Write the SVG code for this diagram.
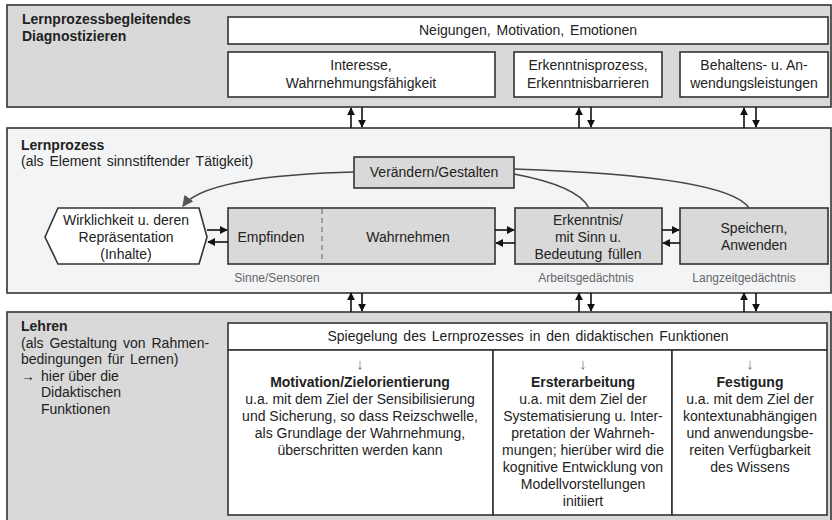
<svg xmlns="http://www.w3.org/2000/svg" width="832" height="520" viewBox="0 0 832 520">
<defs>
<style>
text{font-family:"Liberation Sans",Arial,sans-serif;font-size:14px;fill:#222}
.b{font-weight:bold}
.c{text-anchor:middle}
.s{font-size:12px;fill:#666}
.dn{font-size:15px;fill:#777}
.panelD{fill:#d9d9d9;stroke:#333;stroke-width:1.6}
.panelL{fill:#f3f4f6;stroke:#333;stroke-width:1.6}
.wbox{fill:#fff;stroke:#333;stroke-width:1.6}
.gbox{fill:#d9d9d9;stroke:#333;stroke-width:1.6}
.ln{stroke:#111;stroke-width:1.6;fill:none}
.cv{stroke:#444;stroke-width:1.5;fill:none}
</style>
<marker id="ah" viewBox="0 0 10 10" refX="9" refY="5" markerWidth="8" markerHeight="8" markerUnits="userSpaceOnUse" orient="auto">
<path d="M0,0 L10,5 L0,10 z" fill="#111"/>
</marker>
<marker id="ahg" viewBox="0 0 10 10" refX="9" refY="5" markerWidth="11" markerHeight="11" markerUnits="userSpaceOnUse" orient="auto">
<path d="M0,0 L10,5 L0,10 z" fill="#555"/>
</marker>
</defs>

<g id="panel-diagnose">
<rect class="panelD" x="7" y="5" width="824" height="102"/>
<text class="b" x="22" y="24">Lernprozessbegleitendes</text>
<text class="b" x="22" y="41">Diagnostizieren</text>
</g>
<g id="node-neigungen">
<rect class="wbox" x="228" y="17" width="600" height="27"/>
<text class="c" x="528" y="35" word-spacing="2">Neigungen, Motivation, Emotionen</text>
</g>
<g id="node-interesse">
<rect class="wbox" x="228" y="52" width="267" height="45"/>
<text class="c" x="361" y="70">Interesse,</text>
<text class="c" x="361" y="88">Wahrnehmungsfähigkeit</text>
</g>
<g id="node-erkenntnisprozess">
<rect class="wbox" x="514" y="52" width="148" height="45"/>
<text class="c" x="588" y="70">Erkenntnisprozess,</text>
<text class="c" x="588" y="88">Erkenntnisbarrieren</text>
</g>
<g id="node-behaltens">
<rect class="wbox" x="680" y="52" width="148" height="45"/>
<text class="c" x="754" y="70">Behaltens- u. An-</text>
<text class="c" x="754" y="88">wendungsleistungen</text>
</g>

<g id="panel-lernprozess">
<rect class="panelL" x="7" y="128" width="824" height="165"/>
<text class="b" x="21" y="150">Lernprozess</text>
<text x="21" y="166" word-spacing="2">(als Element sinnstiftender Tätigkeit)</text>
<text class="s c" x="277" y="282">Sinne/Sensoren</text>
<text class="s c" x="586" y="282">Arbeitsgedächtnis</text>
<text class="s c" x="744" y="282">Langzeitgedächtnis</text>
</g>
<g id="node-veraendern">
<rect class="gbox" x="354" y="157" width="160" height="31"/>
<text class="c" x="434" y="177">Verändern/Gestalten</text>
</g>
<g id="node-wirklichkeit">
<polygon class="wbox" points="45,237 58,208 199,208 207,237 199,264 58,264"/>
<text class="c" x="126" y="225">Wirklichkeit u. deren</text>
<text class="c" x="126" y="242">Repräsentation</text>
<text class="c" x="126" y="259">(Inhalte)</text>
</g>
<g id="node-empfinden">
<rect class="gbox" x="228" y="208" width="267" height="56"/>
<line x1="322" y1="209" x2="322" y2="263" stroke="#777" stroke-width="1.2" stroke-dasharray="5,4"/>
<text class="c" x="271" y="242">Empfinden</text>
<text class="c" x="408" y="242">Wahrnehmen</text>
</g>
<g id="node-erkenntnis">
<rect class="gbox" x="515" y="208" width="147" height="56"/>
<text class="c" x="588" y="225">Erkenntnis/</text>
<text class="c" x="588" y="242">mit Sinn u.</text>
<text class="c" x="588" y="259" word-spacing="2">Bedeutung füllen</text>
</g>
<g id="node-speichern">
<rect class="gbox" x="680" y="208" width="148" height="56"/>
<text class="c" x="754" y="233">Speichern,</text>
<text class="c" x="754" y="250">Anwenden</text>
</g>

<g id="panel-lehren">
<rect class="panelD" x="7" y="312" width="824" height="215"/>
<text class="b" x="21" y="331">Lehren</text>
<text x="21" y="348" word-spacing="2">(als Gestaltung von Rahmen-</text>
<text x="21" y="364" word-spacing="2">bedingungen für Lernen)</text>
<text x="21" y="381" font-size="12">→</text>
<text x="41" y="381">hier über die</text>
<text x="41" y="397">Didaktischen</text>
<text x="41" y="414">Funktionen</text>
</g>
<g id="node-spiegelung">
<rect class="wbox" x="228" y="323" width="599" height="27"/>
<text class="c" x="528" y="341" word-spacing="2">Spiegelung des Lernprozesses in den didaktischen Funktionen</text>
</g>
<g id="node-motivation">
<rect class="wbox" x="228" y="350" width="265" height="165"/>
<text class="c dn" x="360" y="369">↓</text>
<text class="c b" x="360" y="387">Motivation/Zielorientierung</text>
<text class="c" x="360" y="404">u.a. mit dem Ziel der Sensibilisierung</text>
<text class="c" x="360" y="421">und Sicherung, so dass Reizschwelle,</text>
<text class="c" x="360" y="438">als Grundlage der Wahrnehmung,</text>
<text class="c" x="360" y="455">überschritten werden kann</text>
</g>
<g id="node-ersterarbeitung">
<rect class="wbox" x="493" y="350" width="179" height="165"/>
<text class="c dn" x="583" y="369">↓</text>
<text class="c b" x="583" y="387">Ersterarbeitung</text>
<text class="c" x="583" y="404">u.a. mit dem Ziel der</text>
<text class="c" x="583" y="421">Systematisierung u. Inter-</text>
<text class="c" x="583" y="438">pretation der Wahrneh-</text>
<text class="c" x="583" y="455">mungen; hierüber wird die</text>
<text class="c" x="583" y="472">kognitive Entwicklung von</text>
<text class="c" x="583" y="489">Modellvorstellungen</text>
<text class="c" x="583" y="506">initiiert</text>
</g>
<g id="node-festigung">
<rect class="wbox" x="672" y="350" width="155" height="165"/>
<text class="c dn" x="750" y="369">↓</text>
<text class="c b" x="750" y="387">Festigung</text>
<text class="c" x="750" y="404">u.a. mit dem Ziel der</text>
<text class="c" x="750" y="421">kontextunabhängigen</text>
<text class="c" x="750" y="438">und anwendungsbe-</text>
<text class="c" x="750" y="455">reiten Verfügbarkeit</text>
<text class="c" x="750" y="472">des Wissens</text>
</g>

<g id="connectors">
<line class="ln" x1="351" y1="128" x2="351" y2="108" marker-end="url(#ah)"/>
<line class="ln" x1="362" y1="107" x2="362" y2="127" marker-end="url(#ah)"/>
<line class="ln" x1="579" y1="128" x2="579" y2="108" marker-end="url(#ah)"/>
<line class="ln" x1="591" y1="107" x2="591" y2="127" marker-end="url(#ah)"/>
<line class="ln" x1="744" y1="128" x2="744" y2="108" marker-end="url(#ah)"/>
<line class="ln" x1="756" y1="107" x2="756" y2="127" marker-end="url(#ah)"/>
<line class="ln" x1="351" y1="312" x2="351" y2="293" marker-end="url(#ah)"/>
<line class="ln" x1="362" y1="293" x2="362" y2="311" marker-end="url(#ah)"/>
<line class="ln" x1="579" y1="312" x2="579" y2="293" marker-end="url(#ah)"/>
<line class="ln" x1="591" y1="293" x2="591" y2="311" marker-end="url(#ah)"/>
<line class="ln" x1="744" y1="312" x2="744" y2="293" marker-end="url(#ah)"/>
<line class="ln" x1="756" y1="293" x2="756" y2="311" marker-end="url(#ah)"/>
<line class="ln" x1="207" y1="230" x2="227" y2="230" marker-end="url(#ah)"/>
<line class="ln" x1="228" y1="242" x2="208" y2="242" marker-end="url(#ah)"/>
<line class="ln" x1="495" y1="230" x2="514" y2="230" marker-end="url(#ah)"/>
<line class="ln" x1="515" y1="243" x2="496" y2="243" marker-end="url(#ah)"/>
<line class="ln" x1="662" y1="230" x2="679" y2="230" marker-end="url(#ah)"/>
<line class="ln" x1="680" y1="243" x2="663" y2="243" marker-end="url(#ah)"/>
<path class="cv" d="M354,172 Q205,176 183,206" marker-end="url(#ahg)"/>
<path class="cv" d="M514,174 Q578,186 589,208"/>
<path class="cv" d="M514,169 Q728,176 749,208"/>
</g>
</svg>
